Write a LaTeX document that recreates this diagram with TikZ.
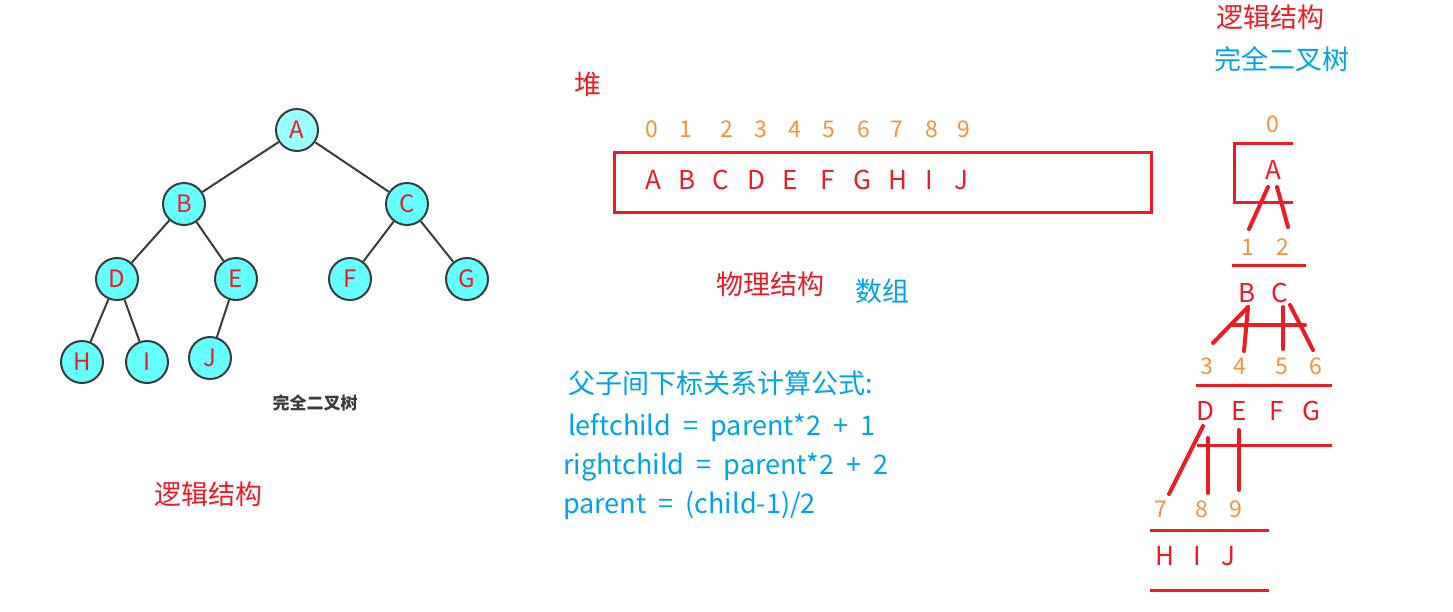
\documentclass[tikz,border=0pt]{standalone}
\usepackage{fontspec}
\setmainfont{Noto Sans CJK SC}
\newfontfamily\formfont[WordSpace=2]{Noto Sans CJK SC}
\definecolor{myred}{HTML}{ED1C24}
\definecolor{myorange}{HTML}{F7913D}
\definecolor{myblue}{HTML}{00A2E8}
\definecolor{mycyan}{HTML}{66FFFF}
\definecolor{mycyanl}{HTML}{99FFFF}
\definecolor{mygray}{HTML}{3A3A3A}
\begin{document}
\begin{tikzpicture}[x=1pt,y=-1pt,
  tnode/.style={circle,draw=mygray,line width=2pt,fill=mycyan,minimum size=42pt,inner sep=0pt,text=myred,font=\fontsize{24}{26}\selectfont},
  tedge/.style={draw=mygray,line width=2pt},
  big/.style={font=\fontsize{27}{30}\selectfont,inner sep=0pt},
  redtxt/.style={big,text=myred},
  bluetxt/.style={big,text=myblue},
  formula/.style={bluetxt,anchor=west,font=\formfont\fontsize{27}{30}\selectfont},
  idx/.style={font=\fontsize{23}{26}\selectfont,text=myorange,inner sep=0pt},
  arr/.style={font=\fontsize{26}{28}\selectfont,text=myred,inner sep=0pt},
  pen/.style={draw=myred,line width=4pt,line cap=round},
  rule/.style={draw=myred,line width=3pt}]
\useasboundingbox (0,0) rectangle (1453,611);
% left tree
\node[tnode,fill=mycyanl] (A) at (297,130) {A};
\node[tnode] (B) at (184,204) {B};
\node[tnode] (C) at (407,204) {C};
\node[tnode] (D) at (117,279) {D};
\node[tnode] (E) at (236,279) {E};
\node[tnode] (F) at (350,279) {F};
\node[tnode] (G) at (467,279) {G};
\node[tnode] (H) at (82,362) {H};
\node[tnode] (I) at (147,362) {I};
\node[tnode] (J) at (210,358) {J};
\draw[tedge] (A) -- (B);
\draw[tedge] (A) -- (C);
\draw[tedge] (B) -- (D);
\draw[tedge] (B) -- (E);
\draw[tedge] (C) -- (F);
\draw[tedge] (C) -- (G);
\draw[tedge] (D) -- (H);
\draw[tedge] (D) -- (I);
\draw[tedge] (E) -- (J);
\node[font=\fontsize{17}{19}\selectfont\bfseries,text=mygray] (cap) at (315,403) {完全二叉树};
\node[redtxt] (lj1) at (208,494) {逻辑结构};
% array
\node[redtxt] (dui) at (588,84) {堆};
\node[draw=myred,line width=3pt,minimum width=537pt,minimum height=60pt,inner sep=0pt] (box) at (882.5,182) {};
\foreach \i/\x in {0/652,1/686,2/727,3/761,4/795,5/829,6/864,7/897,8/932,9/964}
  \node[idx] (n\i) at (\x,129) {\i};
\foreach \l/\x in {A/653,B/687,C/721,D/756,E/790,F/828,G/862,H/898,I/929,J/961}
  \node[arr] (a\l) at (\x,180) {\l};
\node[redtxt] (wl) at (770,284) {物理结构};
\node[bluetxt] (sz) at (882,291) {数组};
\node[bluetxt,anchor=west] (f0) at (568,383) {父子间下标关系计算公式:};
\node[formula] (f1) at (568,428) {leftchild = parent*2 + 1};
\node[formula] (f2) at (563,467) {rightchild = parent*2 + 2};
\node[formula] (f3) at (563,506) {parent = (child-1)/2};
% right side
\node[redtxt] (lj2) at (1270,17) {逻辑结构};
\node[bluetxt] (wq) at (1282,59) {完全二叉树};
\node[idx] (r0) at (1273,124) {0};
\draw[rule] (1293,143) -- (1234,143) -- (1234,202) -- (1293,202);
\node[arr] (rA) at (1273,170) {A};
\draw[pen] (1268,187) -- (1249,229);
\draw[pen] (1277,187) -- (1288,227);
\node[idx] (r1) at (1248,247) {1};
\node[idx] (r2) at (1283,247) {2};
\draw[rule] (1232,265) -- (1306,265);
\node[arr] (rB) at (1247,293) {B};
\node[arr] (rC) at (1280,293) {C};
\draw[pen] (1248,307) -- (1213,343);
\draw[pen] (1248,307) -- (1244,351);
\draw[pen] (1233,325) -- (1305,325);
\draw[pen] (1283,307) -- (1283,349);
\draw[pen] (1290,305) -- (1313,350);
\node[idx] (r3) at (1207,366) {3};
\node[idx] (r4) at (1240,366) {4};
\node[idx] (r5) at (1282,366) {5};
\node[idx] (r6) at (1316,366) {6};
\draw[rule] (1196,385) -- (1332,385);
\node[arr] (rD) at (1205,411) {D};
\node[arr] (rE) at (1239,411) {E};
\node[arr] (rF) at (1277,411) {F};
\node[arr] (rG) at (1311,411) {G};
\draw[rule] (1197,445) -- (1332,445);
\draw[pen] (1203,426) -- (1169,494);
\draw[pen] (1208,438) -- (1208,493);
\draw[pen] (1239,430) -- (1239,490);
\node[idx] (r7) at (1161,509) {7};
\node[idx] (r8) at (1202,509) {8};
\node[idx] (r9) at (1236,509) {9};
\draw[rule] (1150,530) -- (1269,530);
\node[arr] (rH) at (1165,556) {H};
\node[arr] (rI) at (1197,556) {I};
\node[arr] (rJ) at (1228,556) {J};
\draw[rule] (1150,590) -- (1269,590);
\end{tikzpicture}
\end{document}
